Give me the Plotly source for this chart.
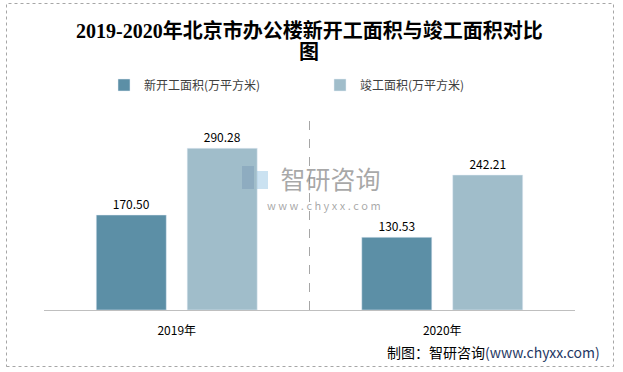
import plotly.graph_objects as go

years = ["2019年", "2020年"]
new_start = [170.50, 130.53]
completed = [290.28, 242.21]
series_names = ["新开工面积(万平方米)", "竣工面积(万平方米)"]
title_lines = ["2019-2020年北京市办公楼新开工面积与竣工面积对比", "图"]

CJK = "Noto Sans CJK SC"
W, H = 623, 372
L, R, T, B = 44, 48, 115, 62
pw, ph = W - L - R, H - T - B

def px_x(x):
    return (x - L) / pw

def px_y(y):
    return (H - B - y) / ph

fig = go.Figure()
fig.add_trace(go.Bar(
    x=years, y=new_start, name=series_names[0],
    marker=dict(color="#5c8fa6"),
    text=[f"{v:.2f}" for v in new_start], textposition="outside",
    textfont=dict(size=12, color="#000000", family=CJK),
    cliponaxis=False, hoverinfo="skip",
))
fig.add_trace(go.Bar(
    x=years, y=completed, name=series_names[1],
    marker=dict(color="#a0bdca"),
    text=[f"{v:.2f}" for v in completed], textposition="outside",
    textfont=dict(size=12, color="#000000", family=CJK),
    cliponaxis=False, hoverinfo="skip",
))

# category separator
fig.add_shape(type="line", xref="x", yref="paper", x0=0.5, x1=0.5, y0=0, y1=1,
              line=dict(color="#a6a6a6", width=1, dash="dash"))

# outer dashed border
fig.add_shape(type="rect", xref="paper", yref="paper",
              x0=px_x(6.5), x1=px_x(613.5), y0=px_y(366.5), y1=px_y(3.5),
              line=dict(color="#a6a6a6", width=1, dash="dot"), layer="below")

# watermark logo (approximation)
fig.add_shape(type="rect", xref="paper", yref="paper",
              x0=px_x(242), x1=px_x(254), y0=px_y(189), y1=px_y(166),
              fillcolor="rgba(120,150,180,0.45)", line=dict(width=0))
fig.add_shape(type="rect", xref="paper", yref="paper",
              x0=px_x(257), x1=px_x(268), y0=px_y(189), y1=px_y(171),
              fillcolor="rgba(140,190,225,0.45)", line=dict(width=0))

fig.add_annotation(
    text="<span style='font-size:25px'>智研咨询</span><br>"
         "<span style='font-size:11px'>w w w . c h y x x . c o m</span>",
    xref="paper", yref="paper", x=px_x(383), y=px_y(186),
    xanchor="right", yanchor="middle", align="right", showarrow=False,
    font=dict(size=16, color="rgba(140,140,140,0.75)", family=CJK))

# title (two lines)
for line, yc in zip(title_lines, [30, 52]):
    fig.add_annotation(text=f"<b>{line}</b>", xref="paper", yref="paper",
                       x=px_x(309), y=px_y(yc), xanchor="center", yanchor="middle",
                       showarrow=False,
                       font=dict(size=20, color="#000000",
                                 family="Liberation Serif, " + CJK))

# source
fig.add_annotation(
    text="制图：智研咨询<span style='color:#1f3864'>(www.chyxx.com)</span>",
    xref="paper", yref="paper", x=px_x(602), y=px_y(352),
    xanchor="right", yanchor="middle", showarrow=False,
    font=dict(size=14, color="#000000", family=CJK))

fig.update_layout(
    width=W, height=H,
    margin=dict(l=L, r=R, t=T, b=B, autoexpand=False),
    paper_bgcolor="white", plot_bgcolor="white",
    barmode="group", bargap=0.315, bargroupgap=0.23,
    legend=dict(orientation="h", x=px_x(104), xanchor="left",
                y=1 + (T - 85) / ph, yanchor="middle",
                entrywidth=171, entrywidthmode="pixels",
                font=dict(size=12, color="#404040", family=CJK),
                itemwidth=30),
    xaxis=dict(showline=True, linecolor="#bfbfbf", linewidth=1,
               showgrid=False, ticks="", ticklabelstandoff=10,
               tickfont=dict(size=12, color="#000000", family=CJK)),
    yaxis=dict(range=[0, 350], visible=False, showgrid=False),
    showlegend=True,
)

fig.write_html("out.html", config={"displayModeBar": False},
               post_script="document.body.style.margin='0';document.body.style.padding='0';")
